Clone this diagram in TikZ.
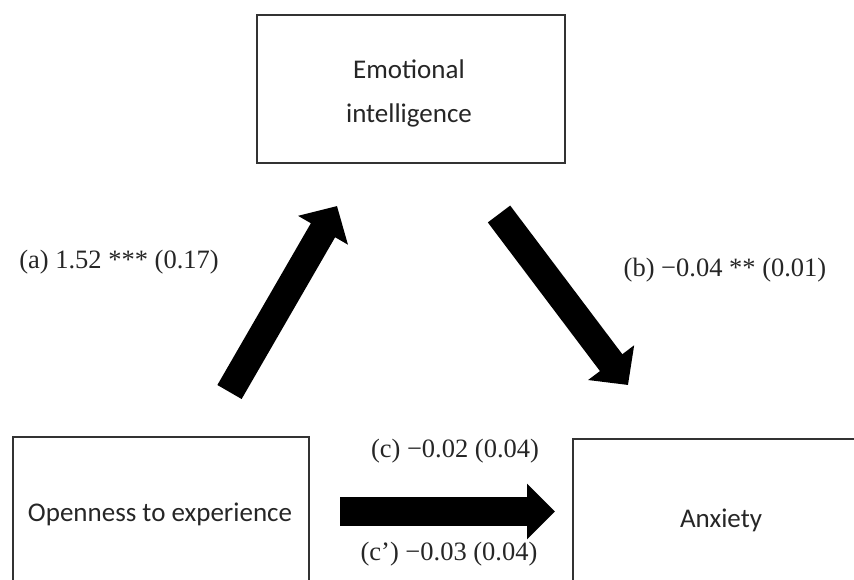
\documentclass[tikz,border=0pt]{standalone}
\usepackage{fontspec}
\setmainfont{Liberation Serif}
\newfontfamily\boxfont{Carlito}
\usetikzlibrary{arrows.meta}
\begin{document}
\begin{tikzpicture}[x=1pt,y=-1pt,
  box/.style={draw=black!80, line width=1.5pt, rectangle, inner sep=0pt},
  boxtext/.style={font=\boxfont\fontsize{27}{33}\selectfont, text=black!85, anchor=base, inner sep=0pt},
  pathlabel/.style={font=\fontsize{26.5}{32}\selectfont, text=black!85, anchor=base, inner sep=0pt},
  bigarrow/.style={line width=28pt, -{Triangle[length=28pt,width=56pt]}}]
\useasboundingbox (0,0) rectangle (854,579);
\clip (0,0) rectangle (854,579);
% boxes
\node[box, minimum width=308pt, minimum height=148pt] (ei) at (411,89) {};
\node[box, minimum width=296pt, minimum height=183pt] (op) at (161,528.5) {};
\node[box, minimum width=296pt, minimum height=183pt] (anx) at (721,530.5) {};
% box texts
\node[boxtext] (eit1) at (409,78) {Emotional};
\node[boxtext] (eit2) at (409,122) {intelligence};
\node[boxtext] (opt) at (160,521) {Openness to experience};
\node[boxtext] (anxt) at (721,527) {Anxiety};
% path labels
\node[pathlabel] (la) at (119,268) {(a) 1.52 *** (0.17)};
\node[pathlabel] (lb) at (725,276) {(b) −0.04 ** (0.01)};
\node[pathlabel] (lc) at (455,457) {(c) −0.02 (0.04)};
\node[pathlabel] (lc2) at (449,560) {(c’) −0.03 (0.04)};
% arrows
\coordinate (aS) at (229.5,392);
\coordinate (aE) at (337,206);
\coordinate (bS) at (499,214);
\coordinate (bE) at (628,385);
\coordinate (cS) at (340,511.5);
\coordinate (cE) at (555,511.5);
\draw[bigarrow] (aS) -- (aE);
\draw[bigarrow] (bS) -- (bE);
\draw[line width=29pt, -{Triangle[length=28pt,width=54pt]}] (cS) -- (cE);
\end{tikzpicture}
\end{document}
